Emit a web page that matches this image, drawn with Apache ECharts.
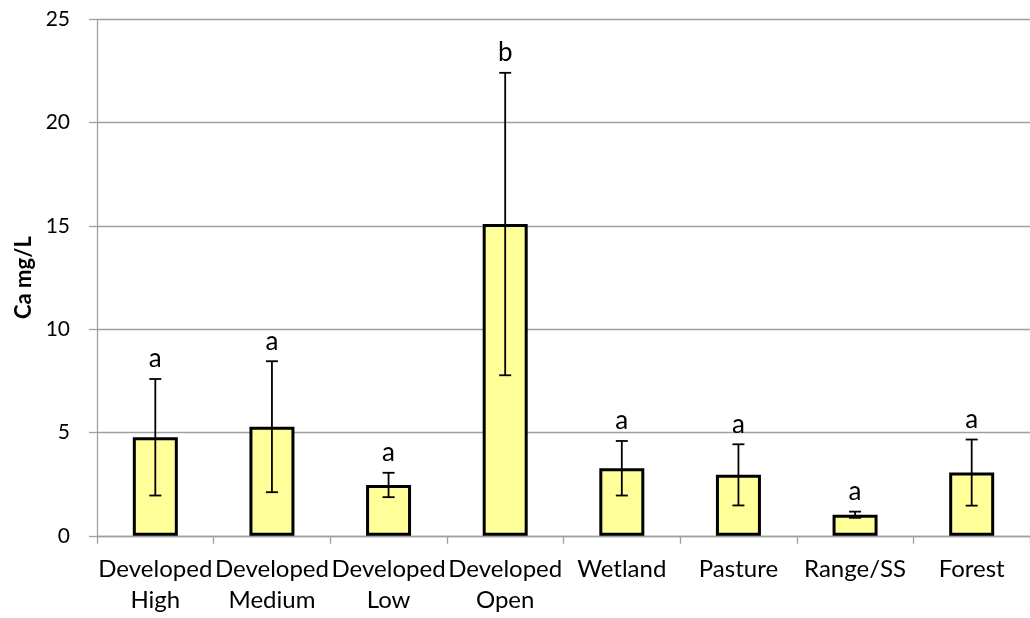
<!DOCTYPE html>
<html>
<head>
<meta charset="utf-8">
<script src="https://cdn.jsdelivr.net/npm/echarts@6/dist/echarts.min.js"></script>
<style>html,body{margin:0;padding:0;background:#fff;}#c{width:1030px;height:618px;}</style>
</head>
<body>
<div id="c"></div>
<script>
const categories = ["Developed\nHigh", "Developed\nMedium", "Developed\nLow", "Developed\nOpen", "Wetland", "Pasture", "Range/SS", "Forest"];
const means = [4.77, 5.28, 2.46, 15.09, 3.27, 2.95, 1.02, 3.06];
const errors = [2.82, 3.17, 0.59, 7.32, 1.32, 1.48, 0.15, 1.60];
const letters = ["a", "a", "a", "b", "a", "a", "a", "a"];
const yTicks = [0, 5, 10, 15, 20, 25];

const FONT = 'Lato';
const chart = echarts.init(document.getElementById('c'));
const errData = means.map((m, i) => [i, m - errors[i], m + errors[i], letters[i]]);

chart.setOption({
  animation: false,
  backgroundColor: '#ffffff',
  grid: { left: 97, top: 19.3, width: 941, height: 516.5, containLabel: false },
  xAxis: {
    type: 'category',
    data: categories,
    axisLine: { lineStyle: { color: '#a0a0a0', width: 1.3 } },
    axisTick: { show: true, length: 8, alignWithLabel: false, lineStyle: { color: '#a0a0a0', width: 1.3 } },
    axisLabel: { color: '#000', fontFamily: FONT, fontSize: 24, lineHeight: 31, margin: 18, interval: 0 }
  },
  yAxis: {
    type: 'value',
    min: yTicks[0],
    max: yTicks[yTicks.length - 1],
    interval: 5,
    name: 'Ca mg/L',
    nameLocation: 'middle',
    nameGap: 59,
    nameRotate: 90,
    nameTextStyle: { color: '#000', fontFamily: FONT, fontSize: 22, fontWeight: 'bold' },
    axisLine: { show: true, lineStyle: { color: '#a0a0a0', width: 1.3 } },
    axisTick: { show: true, length: 8, lineStyle: { color: '#a0a0a0', width: 1.3 } },
    axisLabel: { color: '#000', fontFamily: FONT, fontSize: 21, margin: 27 },
    splitLine: { lineStyle: { color: '#a0a0a0', width: 1.3 } }
  },
  series: [
    {
      type: 'bar',
      data: means,
      barWidth: 45,
      itemStyle: { color: '#ffff99', borderColor: '#000', borderWidth: 3 }
    },
    {
      type: 'custom',
      data: errData,
      z: 10,
      renderItem: function (params, api) {
        const x = api.value(0);
        const lo = api.coord([x, api.value(1)]);
        const hi = api.coord([x, api.value(2)]);
        const cap = 6;
        const st = { stroke: '#000', lineWidth: 1.8 };
        return {
          type: 'group',
          children: [
            { type: 'line', shape: { x1: hi[0], y1: hi[1], x2: lo[0], y2: lo[1] }, style: st },
            { type: 'line', shape: { x1: hi[0] - cap, y1: hi[1], x2: hi[0] + cap, y2: hi[1] }, style: st },
            { type: 'line', shape: { x1: lo[0] - cap, y1: lo[1], x2: lo[0] + cap, y2: lo[1] }, style: st },
            { type: 'text', style: { text: api.value(3), x: hi[0], y: hi[1] - 7, align: 'center', verticalAlign: 'bottom', fill: '#000', font: '26px ' + FONT } }
          ]
        };
      }
    }
  ]
});
</script>
</body>
</html>
